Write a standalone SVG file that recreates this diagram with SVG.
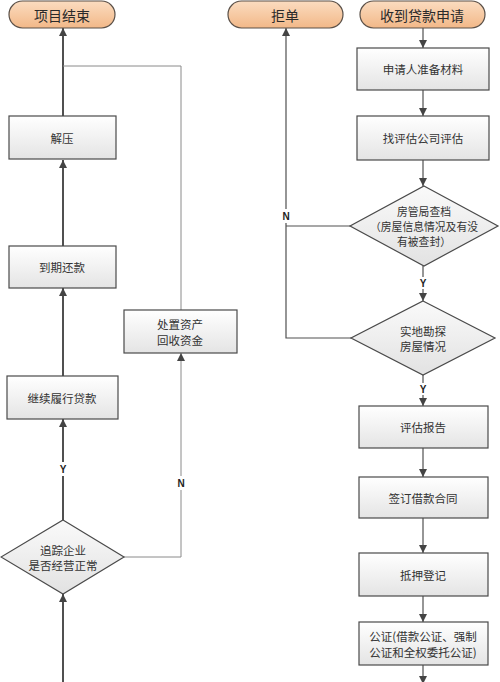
<svg xmlns="http://www.w3.org/2000/svg" width="500" height="682" viewBox="0 0 500 682">
<style>
.pill{fill:url(#gp);stroke:#5a5048;stroke-width:1.2}
.box{fill:url(#gb);stroke:#4a4a4a;stroke-width:1.2}
.dia{fill:url(#gd);stroke:#4a4a4a;stroke-width:1.2}
.t{font-family:"Noto Sans CJK SC","Liberation Sans",sans-serif;fill:#333;text-anchor:middle;dominant-baseline:central}
.tp{font-size:14px;fill:#2a2a2a}
.tb{font-size:11.5px}
.td{font-size:10.8px}
.lbl{font-family:"Liberation Sans",Arial,sans-serif;font-weight:bold;font-size:10px;fill:#222;text-anchor:middle;dominant-baseline:central}
.c{fill:none;stroke:#505050;stroke-width:1.2}
.ck{fill:none;stroke:#505050;stroke-width:2}
.cl{fill:none;stroke:#8a8a8a;stroke-width:1}
</style>
<defs>
<linearGradient id="gp" x1="0" y1="0" x2="0" y2="1"><stop offset="0" stop-color="#fbdcc0"/><stop offset="1" stop-color="#f2b888"/></linearGradient>
<linearGradient id="gb" x1="0" y1="0" x2="0" y2="1"><stop offset="0" stop-color="#ffffff"/><stop offset="1" stop-color="#e4e4e4"/></linearGradient>
<linearGradient id="gd" x1="0" y1="0" x2="0" y2="1"><stop offset="0" stop-color="#fafafa"/><stop offset="1" stop-color="#e2e2e2"/></linearGradient>
<marker id="ah" viewBox="0 0 10 10" refX="10" refY="5" markerWidth="8" markerHeight="8" markerUnits="userSpaceOnUse" orient="auto"><path d="M0,0 L10,5 L0,10 z" fill="#444"/></marker>
</defs>

<g id="connectors">
<path class="c" d="M423,28 V48" marker-end="url(#ah)"/>
<path class="c" d="M423,90 V116" marker-end="url(#ah)"/>
<path class="c" d="M423,160 V186" marker-end="url(#ah)"/>
<path class="c" d="M423,266 V301" marker-end="url(#ah)"/>
<path class="c" d="M423,375 V406" marker-end="url(#ah)"/>
<path class="c" d="M423,448 V477" marker-end="url(#ah)"/>
<path class="c" d="M423,518 V553" marker-end="url(#ah)"/>
<path class="c" d="M423,596 V622" marker-end="url(#ah)"/>
<path class="c" d="M423,665 V684" marker-end="url(#ah)"/>
<path class="c" d="M351,338 H286 V28" marker-end="url(#ah)"/>
<path class="c" d="M350,226 H286"/>
<path class="ck" d="M63,116 V28" marker-end="url(#ah)"/>
<path class="ck" d="M63,246 V160" marker-end="url(#ah)"/>
<path class="ck" d="M63,376 V288" marker-end="url(#ah)"/>
<path class="ck" d="M63,520 V419" marker-end="url(#ah)"/>
<path class="ck" d="M63,682 V594" marker-end="url(#ah)"/>
<path class="cl" d="M63,66 H181 V310"/>
<path class="cl" d="M124,557 H181 V353" marker-end="url(#ah)"/>
<rect x="279" y="209" width="14" height="14" fill="#fff"/>
<text class="lbl" x="286" y="216">N</text>
<rect x="417" y="277" width="12" height="12" fill="#fff"/>
<text class="lbl" x="423" y="283">Y</text>
<rect x="417" y="383" width="12" height="12" fill="#fff"/>
<text class="lbl" x="423" y="389">Y</text>
<rect x="57" y="462" width="12" height="14" fill="#fff"/>
<text class="lbl" x="63" y="469">Y</text>
<rect x="174" y="476" width="14" height="14" fill="#fff"/>
<text class="lbl" x="181" y="483">N</text>
</g>

<g id="n-end"><rect class="pill" x="9" y="1" width="106" height="27" rx="13.5"/><text class="t tp" x="62" y="14.5">项目结束</text></g>
<g id="n-reject"><rect class="pill" x="228" y="1" width="115" height="27" rx="13.5"/><text class="t tp" x="285" y="14.5">拒单</text></g>
<g id="n-start"><rect class="pill" x="360" y="1" width="125" height="27" rx="13.5"/><text class="t tp" x="422" y="14.5">收到贷款申请</text></g>

<g id="n-prepare"><rect class="box" x="357" y="48" width="132" height="42"/><text class="t tb" x="423" y="69">申请人准备材料</text></g>
<g id="n-appraise"><rect class="box" x="357" y="116" width="132" height="44"/><text class="t tb" x="423" y="138">找评估公司评估</text></g>
<g id="n-check"><polygon class="dia" points="424,186 498,226 424,266 350,226"/>
<text class="t td" x="424" y="211">房管局查档</text><text class="t td" x="424" y="226">（房屋信息情况及有没</text><text class="t td" x="424" y="241">有被查封）</text></g>
<g id="n-survey"><polygon class="dia" points="423,301 495,338 423,375 351,338"/>
<text class="t tb" x="423" y="331">实地勘探</text><text class="t tb" x="423" y="346">房屋情况</text></g>
<g id="n-report"><rect class="box" x="359" y="406" width="129" height="42"/><text class="t tb" x="423" y="427">评估报告</text></g>
<g id="n-contract"><rect class="box" x="359" y="477" width="129" height="41"/><text class="t tb" x="423" y="497.5">签订借款合同</text></g>
<g id="n-mortgage"><rect class="box" x="359" y="553" width="129" height="43"/><text class="t tb" x="423" y="574.5">抵押登记</text></g>
<g id="n-notary"><rect class="box" x="359" y="622" width="129" height="43"/><text class="t tb" x="423" y="636">公证(借款公证、强制</text><text class="t tb" x="423" y="652">公证和全权委托公证)</text></g>

<g id="n-release"><rect class="box" x="9" y="116" width="107" height="43"/><text class="t tb" x="62" y="137.5">解压</text></g>
<g id="n-repay"><rect class="box" x="9" y="246" width="107" height="42"/><text class="t tb" x="62" y="267">到期还款</text></g>
<g id="n-continue"><rect class="box" x="7" y="376" width="111" height="43"/><text class="t tb" x="62" y="397.5">继续履行贷款</text></g>
<g id="n-dispose"><rect class="box" x="124" y="310" width="113" height="43"/><text class="t tb" x="180" y="324">处置资产</text><text class="t tb" x="180" y="340">回收资金</text></g>
<g id="n-track"><polygon class="dia" points="63,520 124,557 63,594 1,557"/>
<text class="t tb" x="63" y="550">追踪企业</text><text class="t tb" x="63" y="565">是否经营正常</text></g>
</svg>
